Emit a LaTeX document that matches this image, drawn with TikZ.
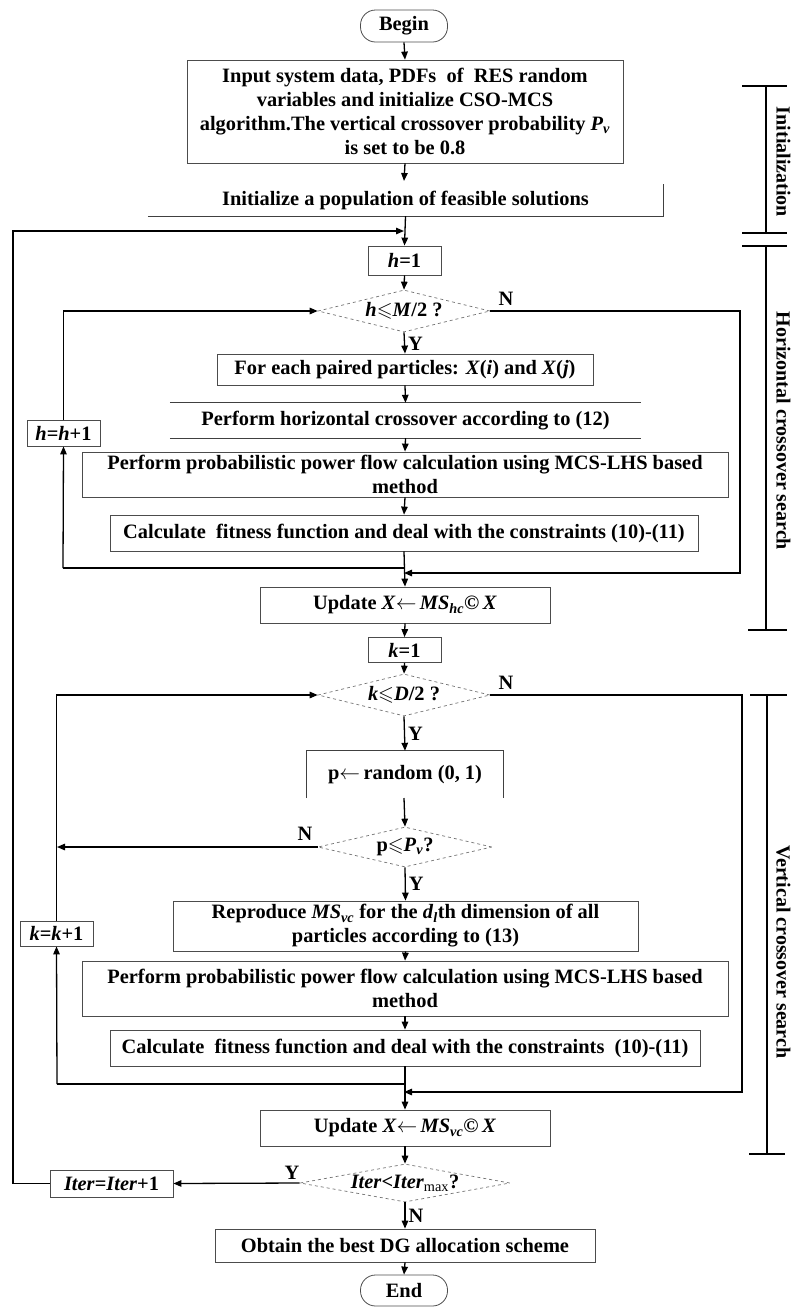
\documentclass[tikz,border=0pt]{standalone}
\usepackage{fontspec}
\setmainfont{Liberation Serif}
\usepackage{amssymb}
\usetikzlibrary{shapes.geometric,arrows.meta,calc}
\begin{document}
\begin{tikzpicture}[x=1pt,y=-1pt,
  every node/.style={font=\fontsize{20.4}{24}\selectfont\bfseries},
  box/.style={draw=black!70,line width=0.8pt,inner sep=0pt,align=center},
  nobox/.style={inner sep=0pt,align=center},
  term/.style={draw=black!70,line width=0.8pt,rounded corners=15pt,minimum width=87pt,minimum height=32pt,inner sep=0pt},
  dia/.style={diamond,draw=black!55,dashed,line width=0.7pt,inner sep=0pt},
  arr/.style={-{Triangle[length=8pt,width=6.5pt]},line width=1.3pt},
  ln/.style={line width=1.3pt},
  edge/.style={draw=black!75,line width=0.8pt},
  brk/.style={line width=1.4pt},
  lbl/.style={inner sep=0pt},
  side/.style={inner sep=0pt,rotate=-90,font=\fontsize{20}{24}\selectfont\bfseries}
]
\useasboundingbox (0,0) rectangle (795,1307);

% ---- nodes ----
\node[term] (begin) at (404,26) {Begin};
\node[box,minimum width=436pt,minimum height=103pt] (input) at (405,111.5)
 {Input system data, PDFs\ \ of\ \ RES random\\ variables and initialize CSO-MCS\\ algorithm.The vertical crossover probability \textit{P}\textsubscript{\textit{v}}\\ is set to be 0.8};
\node[nobox,minimum width=515pt,minimum height=32pt] (initpop) at (405.5,200) {Initialize a population of feasible solutions};
\node[box,minimum width=73pt,minimum height=29pt] (h1) at (404.5,260.5) {\textit{h}=1};
\node[dia,minimum width=172pt,minimum height=42pt] (d1) at (404,311) {};
\node[lbl] (d1t) at (404,311) {\textit{h}$\leqslant$\textit{M}/2 ?};
\node[box,minimum width=376pt,minimum height=31pt] (pair) at (405,369.5) {For each paired particles: \textit{X}(\textit{i}) and \textit{X}(\textit{j})};
\node[nobox,minimum width=471pt,minimum height=35pt] (hcross) at (405.5,420.5) {Perform horizontal crossover according to (12)};
\node[box,minimum width=646pt,minimum height=45pt] (ppf1) at (405,474.5) {Perform probabilistic power flow calculation using MCS-LHS based\\ method};
\node[box,minimum width=588pt,minimum height=36pt] (calc1) at (404,533) {Calculate\ \ fitness function and deal with the constraints (10)-(11)};
\node[box,minimum width=290pt,minimum height=36pt] (upd1) at (405,605) {Update \textit{X}$\leftarrow$\,\textit{MS}\textsubscript{\textit{hc}}©\,\textit{X}};
\node[box,minimum width=73pt,minimum height=25pt] (k1) at (404.5,650) {\textit{k}=1};
\node[dia,minimum width=172pt,minimum height=42pt] (d2) at (404,695) {};
\node[lbl] (d2t) at (404,695) {\textit{k}$\leqslant$\textit{D}/2 ?};
\node[nobox,minimum width=196pt,minimum height=47pt] (prand) at (405,774.5) {p$\leftarrow$\,random (0, 1)};
\node[dia,minimum width=174pt,minimum height=40pt] (d3) at (405,847) {};
\node[lbl] (d3t) at (405,847) {p$\leqslant$\textit{P}\textsubscript{\textit{v}}?};
\node[box,minimum width=465pt,minimum height=50pt] (repro) at (405.5,926) {Reproduce \textit{MS}\textsubscript{\textit{vc}} for the \textit{d}\textsubscript{\textit{l}}th dimension of all\\ particles according to (13)};
\node[box,minimum width=646pt,minimum height=55pt] (ppf2) at (405,988.5) {Perform probabilistic power flow calculation using MCS-LHS based\\ method};
\node[box,minimum width=590pt,minimum height=36pt] (calc2) at (405,1048) {Calculate\ \ fitness function and deal with the constraints\ \ (10)-(11)};
\node[box,minimum width=290pt,minimum height=36pt] (upd2) at (405,1128) {Update \textit{X}$\leftarrow$\,\textit{MS}\textsubscript{\textit{vc}}©\,\textit{X}};
\node[dia,minimum width=210pt,minimum height=38pt] (d4) at (405,1183) {};
\node[lbl] (d4t) at (405,1183) {\textit{Iter}<\textit{Iter}\textsubscript{\mdseries max}?};
\node[box,minimum width=380pt,minimum height=33pt] (best) at (405,1245.5) {Obtain the best DG allocation scheme};
\node[term,minimum height=31pt] (end) at (404,1290.5) {End};

\node[box,minimum width=73pt,minimum height=26pt] (hh) at (63.5,433) {\textit{h}=\textit{h}+1};
\node[box,minimum width=73pt,minimum height=25pt] (kk) at (56.5,933.5) {\textit{k}=\textit{k}+1};
\node[box,minimum width=123pt,minimum height=27pt] (iter) at (111.5,1183.5) {\textit{Iter}=\textit{Iter}+1};

% partial borders
\draw[edge] (initpop.south west) -- (initpop.south east) -- (initpop.north east);
\draw[edge] (hcross.north west) -- (hcross.north east);
\draw[edge] (hcross.south west) -- (hcross.south east);
\draw[edge] (prand.south west) -- (prand.north west) -- (prand.north east) -- (prand.south east);

% junction coordinates
\coordinate (jouter) at (404,231);
\coordinate (jh) at (404,568);
\coordinate (jhn) at (404,573);
\coordinate (jk) at (404,1084);
\coordinate (jkn) at (404,1092);
\coordinate (pbot) at (404,798);

% ---- main column ----
\draw[arr] (begin.south) -- (input.north);
\draw[arr] (input.south) -- (404,181);
\draw[arr] (initpop.south) -- (h1.north);
\draw[arr] (h1.south) -- (d1.north);
\draw[arr] (d1.south) -- node[lbl,right,xshift=3pt,yshift=-1pt]{Y} (pair.north);
\draw[arr] (pair.south) -- (hcross.north);
\draw[arr] (hcross.south) -- (ppf1.north);
\draw[arr] (ppf1.south) -- (calc1.north);
\draw[arr] (calc1.south) -- (upd1.north);
\draw[arr] (upd1.south) -- (k1.north);
\draw[arr] (k1.south) -- (d2.north);
\draw[arr] (d2.south) -- node[lbl,right,xshift=3pt]{Y} (prand.north);
\draw[arr] (pbot) -- (d3.north);
\draw[arr] (d3.south) -- node[lbl,right,xshift=3pt]{Y} (repro.north);
\draw[arr] (repro.south) -- (ppf2.north);
\draw[arr] (ppf2.south) -- (calc2.north);
\draw[arr] (calc2.south) -- (upd2.north);
\draw[arr] (upd2.south) -- (d4.north);
\draw[arr] (d4.south) -- node[lbl,right,xshift=3pt]{N} (best.north);
\draw[arr] (best.south) -- (end.north);

% ---- horizontal loop ----
\draw[ln] (jh) -- (63,568) coordinate (hl);
\draw[arr] (hl) -- (hh.south);
\draw[arr] (hh.north) |- (d1.west);
\draw[arr] (d1.east) -- (740,311) -- (740,573) -- (jhn);
\node[lbl] at (506,299) {N};

% ---- vertical loop ----
\draw[ln] (jk) -- (57,1084) coordinate (kl);
\draw[arr] (kl) -- (kk.south);
\draw[arr] (kk.north) |- (d2.west);
\draw[arr] (d2.east) -- (742,695) -- (742,1092) -- (jkn);
\node[lbl] at (506,683) {N};
\draw[arr] (d3.west) -- (57,847);
\node[lbl] at (305,834) {N};

% ---- outer loop ----
\draw[arr] (d4.west) -- (iter.east);
\node[lbl] at (292,1173) {Y};
\draw[arr] (iter.west) -- (13,1183.5) -- (13,231) -- (jouter);

% ---- brackets ----
\draw[brk] (766,86) -- (766,233);
\draw[brk] (742,86) -- (787,86);
\draw[brk] (742,233) -- (787,233);
\draw[brk] (766,246) -- (766,630);
\draw[brk] (742,246) -- (787,246);
\draw[brk] (748,630) -- (787,630);
\draw[brk] (767,695) -- (767,1154);
\draw[brk] (750,695) -- (787,695);
\draw[brk] (749,1154) -- (785,1154);
\node[side] (lab1) at (783.5,162) {Initialization};
\node[side] (lab2) at (783.5,431) {Horizontal crossover search};
\node[side] (lab3) at (783.5,952) {Vertical crossover search};
\end{tikzpicture}
\end{document}
